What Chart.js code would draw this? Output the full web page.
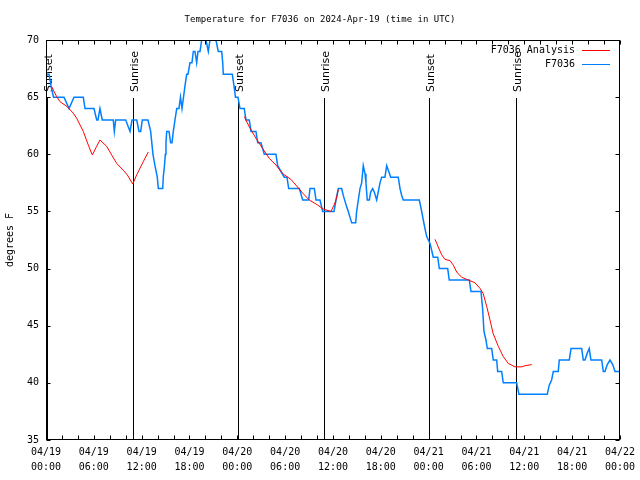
<!DOCTYPE html>
<html>
<head>
<meta charset="utf-8">
<script src="https://cdn.jsdelivr.net/npm/chart.js@4.4.1/dist/chart.umd.min.js"></script>
<style>
  html, body { margin: 0; padding: 0; background: #fff; }
  #wrap { width: 640px; height: 480px; }
</style>
</head>
<body>
<div id="wrap"><canvas id="tempChart" width="640" height="480"></canvas></div>
<script>
// === DATA (hours since 04/19 00:00 UTC, degrees F) ===
const chartTitle = "Temperature for F7036 on 2024-Apr-19 (time in UTC)";

const obsHours = [
  0, 0.38, 0.63, 0.94, 2.26, 2.89, 3.51, 4.68, 4.89, 6.02, 6.36, 6.52, 6.77, 7.06,
  8.44, 8.57, 8.74, 10.0, 10.54, 10.79, 11.38, 11.67, 11.88, 12.08, 12.79, 13.13,
  13.42, 13.67, 13.96, 14.09, 14.64, 14.71, 14.86, 14.97, 15.05, 15.14, 15.43, 15.64,
  15.81, 15.97, 16.18, 16.4, 16.68, 16.87, 17.06, 17.25, 17.44, 17.65, 17.81, 18.06,
  18.31, 18.48, 18.69, 18.9, 19.07, 19.32, 19.53, 20.07, 20.36, 20.57, 21.32, 21.61,
  22.04, 22.17, 22.24, 23.37, 23.58, 23.77, 24.08, 24.34, 24.87, 25.09, 25.5, 25.72,
  26.34, 26.56, 26.97, 27.38, 28.85, 29.06, 29.89, 30.23, 30.44, 31.78, 32.2, 32.95,
  33.12, 33.66, 33.87, 34.37, 34.71, 36.13, 36.38, 36.67, 37.09, 37.29, 37.72, 37.92,
  38.13, 38.35, 38.85, 38.97, 39.18, 39.39, 39.6, 39.8, 40.02, 40.14, 40.3, 40.56,
  40.73, 40.98, 41.18, 41.48, 41.68, 41.9, 42.11, 42.52, 42.74, 42.94, 43.24, 44.19,
  44.41, 44.62, 44.82, 46.83, 47.13, 47.33, 47.54, 47.76, 48.17, 48.38, 48.58, 49.14,
  49.34, 50.39, 50.59, 53.1, 53.31, 54.57, 54.78, 54.94, 55.19, 55.36, 55.91, 56.11,
  56.54, 56.66, 57.16, 57.36, 59.04, 59.33, 62.88, 63.13, 63.43, 63.64, 64.26, 64.39,
  65.64, 65.86, 67.2, 67.4, 67.61, 67.9, 68.15, 68.36, 69.71, 69.91, 70.12, 70.41,
  70.75, 71.09, 71.38, 72
];
const obsTemps = [
  67, 67, 66, 65, 65, 64, 65, 65, 64, 64, 63, 63, 64, 63,
  63, 62, 63, 63, 62, 63, 63, 62, 62, 63, 63, 62,
  60, 59, 58, 57, 57, 58, 59, 60, 61, 62, 62, 61,
  61, 62, 63, 64, 64, 65, 64, 65, 66, 67, 67, 68,
  68, 69, 69, 68, 69, 69, 70, 70, 69, 70, 70, 69,
  69, 68, 67, 67, 66, 65, 65, 64, 64, 63, 63, 62,
  62, 61, 61, 60, 60, 59, 58, 58, 57, 57, 56, 56,
  57, 57, 56, 56, 55, 55, 56, 57, 57, 56.4, 55.4, 55,
  54.5, 54, 54, 55, 56, 57, 57.5, 59, 58.3, 57.5, 56, 56,
  56.7, 57, 56.7, 56, 56.7, 57.5, 58, 58, 59, 58.6, 58, 58,
  57, 56.4, 56, 56, 55, 54.25, 53.5, 52.8, 52.2, 51.6, 51, 51,
  50, 50, 49, 49, 48, 48, 46.4, 44.5, 43.75, 43, 43, 42,
  42, 41, 41, 40, 40, 39, 39, 39.8, 40.25, 41, 41, 42,
  42, 43, 43, 42, 42, 42.6, 43, 42, 42, 41, 41, 41.6,
  42, 41.6, 41, 41
];

// analysis runs in three pieces; null marks the gaps
const anaHours = [
  0.72, 1.34, 1.76, 2.6, 3.42, 3.85, 4.68, 5.31, 5.81, 6.36, 6.77, 7.61, 8.24, 8.87,
  9.7, 10.2, 10.88, 11.38, 12.2, 12.83,
  18,
  24.87, 25.5, 26.34, 27.18, 28.0, 28.85, 29.7, 30.73, 31.36, 32.2, 33.03, 34.08,
  34.78, 35.75, 36.1, 36.38, 36.67,
  42,
  48.8, 49.2, 49.64, 50.05, 50.68, 51.1, 51.52, 52.14, 52.97, 53.81, 54.44, 54.85,
  55.28, 55.7, 56.1, 56.74, 57.36, 57.99, 58.83, 59.67, 60.09, 60.93
];
const anaTemps = [
  65.9, 65.04, 64.6, 64.2, 63.6, 63.15, 62.0, 60.8, 59.94, 60.7, 61.25, 60.7, 59.94, 59.2,
  58.6, 58.2, 57.4, 58.2, 59.35, 60.2,
  null,
  63.3, 62.4, 61.4, 60.5, 59.65, 59.06, 58.3, 57.8, 57.3, 56.6, 56.0, 55.56,
  55.2, 55.0, 55.5, 56.0, 56.9,
  null,
  52.56, 51.9, 51.2, 50.8, 50.7, 50.3, 49.7, 49.24, 49.0, 48.76, 48.27, 47.8,
  46.7, 45.5, 44.3, 43.2, 42.3, 41.7, 41.4, 41.4, 41.5, 41.6
];

const eventHours = [0.12, 10.91, 24.08, 34.87, 48.04, 58.96];
const eventNames = ["Sunset", "Sunrise", "Sunset", "Sunrise", "Sunset", "Sunrise"];

const xTickLabels = [
  ["04/19", "00:00"], ["04/19", "06:00"], ["04/19", "12:00"], ["04/19", "18:00"],
  ["04/20", "00:00"], ["04/20", "06:00"], ["04/20", "12:00"], ["04/20", "18:00"],
  ["04/21", "00:00"], ["04/21", "06:00"], ["04/21", "12:00"], ["04/21", "18:00"],
  ["04/22", "00:00"]
];
const yTicks = [35, 40, 45, 50, 55, 60, 65, 70];

const MONO = '"DejaVu Sans Mono", "Liberation Mono", monospace';

// === PLUGINS: frame + inward ticks, sun events, legend ===
const framePlugin = {
  id: "frame",
  beforeDatasetsDraw(chart) {
    const { ctx, chartArea: a, scales } = chart;
    ctx.save();
    ctx.strokeStyle = "#000";
    ctx.lineWidth = 1;
    ctx.fillStyle = "#000";
    ctx.font = "11px 'DejaVu Sans', sans-serif";
    eventHours.forEach((h, i) => {
      const px = Math.round(scales.x.getPixelForValue(h)) + 0.5;
      ctx.beginPath();
      ctx.moveTo(px, 98);
      ctx.lineTo(px, a.bottom);
      ctx.stroke();
      ctx.save();
      ctx.translate(px + 2, 92);
      ctx.rotate(-Math.PI / 2);
      ctx.textAlign = "left";
      ctx.textBaseline = "middle";
      ctx.fillText(eventNames[i], 0, 0);
      ctx.restore();
    });
    ctx.restore();
  },
  afterDatasetsDraw(chart) {
    const { ctx, chartArea: a, scales } = chart;
    ctx.save();
    ctx.strokeStyle = "#000";
    ctx.lineWidth = 1;
    const L = Math.round(a.left) + 0.5, R = Math.round(a.right) - 0.5;
    const T = Math.round(a.top) + 0.5, B = Math.round(a.bottom) - 0.5;
    ctx.strokeRect(L, T, R - L, B - T);
    ctx.beginPath();
    scales.x.ticks.forEach(t => {
      const px = Math.round(scales.x.getPixelForValue(t.value)) + 0.5;
      ctx.moveTo(px, B); ctx.lineTo(px, B - 4);
      ctx.moveTo(px, T); ctx.lineTo(px, T + 4);
    });
    yTicks.forEach(v => {
      const py = Math.round(scales.y.getPixelForValue(v)) + 0.5;
      ctx.moveTo(L, py); ctx.lineTo(L + 4, py);
      ctx.moveTo(R, py); ctx.lineTo(R - 4, py);
    });
    ctx.stroke();

    // legend, top right inside the plot
    ctx.font = "10px " + MONO;
    ctx.textAlign = "right";
    ctx.textBaseline = "middle";
    ctx.fillStyle = "#000";
    chart.data.datasets.forEach((ds, i) => {
      const y = 50 + i * 14;
      ctx.fillText(ds.label, 575, y);
      ctx.strokeStyle = ds.borderColor;
      ctx.beginPath();
      ctx.moveTo(582, y + 0.5);
      ctx.lineTo(610, y + 0.5);
      ctx.stroke();
    });
    ctx.restore();
  }
};

// === TEMPERATURE CHART ===
const ctx = document.getElementById("tempChart").getContext("2d");
new Chart(ctx, {
  type: "line",
  data: {
    datasets: [
      {
        label: "F7036 Analysis",
        data: anaHours.map((h, i) => ({ x: h, y: anaTemps[i] })),
        borderColor: "#ff0000",
        borderWidth: 1,
        pointRadius: 0,
        spanGaps: false,
        tension: 0
      },
      {
        label: "F7036",
        data: obsHours.map((h, i) => ({ x: h, y: obsTemps[i] })),
        borderColor: "#0080ff",
        borderWidth: 1.5,
        pointRadius: 0,
        tension: 0
      }
    ]
  },
  options: {
    responsive: false,
    animation: false,
    layout: { padding: 0 },
    plugins: {
      legend: { display: false },
      tooltip: { enabled: false },
      title: {
        display: true,
        text: chartTitle,
        color: "#000",
        font: { family: MONO, size: 9, weight: "normal", lineHeight: 1.2 },
        padding: { top: 14, bottom: 15.2 }
      }
    },
    scales: {
      x: {
        type: "linear",
        min: 0,
        max: 72,
        grid: { display: false, drawTicks: false },
        border: { display: false },
        ticks: {
          stepSize: 2,
          autoSkip: false,
          maxRotation: 0,
          padding: 5,
          color: "#000",
          font: { family: MONO, size: 10, lineHeight: 1.5 },
          callback: v => (v % 6 === 0 ? xTickLabels[v / 6] : "")
        },
        afterFit: s => { s.height = 40; }
      },
      y: {
        min: 35,
        max: 70,
        grid: { display: false, drawTicks: false },
        border: { display: false },
        ticks: {
          stepSize: 5,
          padding: 7,
          color: "#000",
          font: { family: MONO, size: 10 }
        },
        title: {
          display: true,
          text: "degrees F",
          color: "#000",
          font: { family: MONO, size: 10 },
          padding: { top: 4, bottom: 0 }
        },
        afterFit: s => { s.width = 46; }
      },
      // empty right margin so the title centres on the whole canvas
      yRight: {
        position: "right",
        min: 35,
        max: 70,
        grid: { display: false, drawTicks: false },
        border: { display: false },
        ticks: { display: false },
        afterFit: s => { s.width = 20; }
      }
    }
  },
  plugins: [framePlugin]
});
</script>
</body>
</html>
